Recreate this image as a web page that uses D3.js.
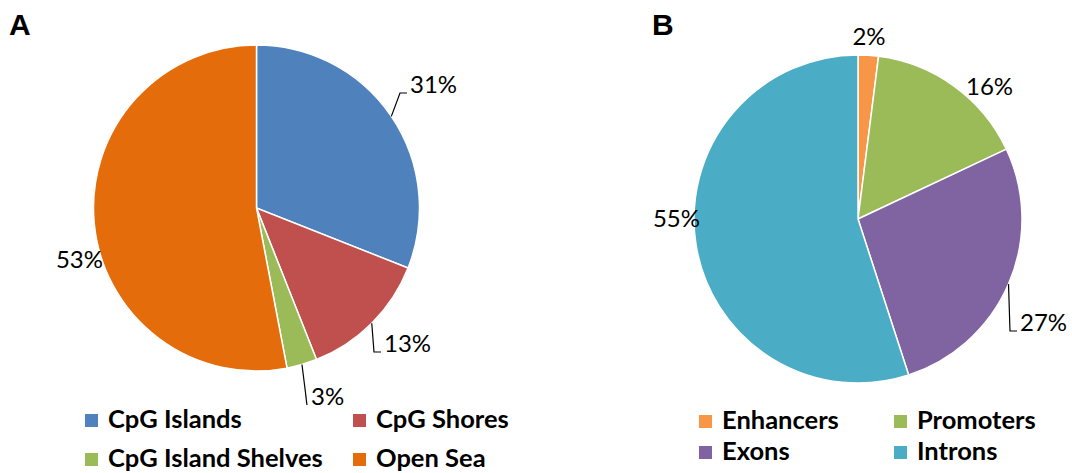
<!DOCTYPE html>
<html>
<head>
<meta charset="utf-8">
<script src="https://cdn.jsdelivr.net/npm/d3@7/dist/d3.min.js"></script>
<style>
  html, body { margin: 0; padding: 0; background: #fff; }
  svg { display: block; }
</style>
</head>
<body>
<svg id="chart" width="1072" height="473"></svg>
<script>
// Panel A: genomic context relative to CpG islands
const regionsA = ["CpG Islands", "CpG Shores", "CpG Island Shelves", "Open Sea"];
const valuesA = [31, 13, 3, 53];
const colorsA = ["#4F81BD", "#C0504D", "#9BBB59", "#E46C0A"];

// Panel B: gene-feature annotation
const regionsB = ["Enhancers", "Promoters", "Exons", "Introns"];
const valuesB = [2, 16, 27, 55];
const colorsB = ["#F79646", "#9BBB59", "#8064A2", "#4BACC6"];

// Label placement relative to each pie centre: [x, y, anchor, leader]
const labelLayoutA = [
  [153.5, -115, "start", "elbow"],
  [127.5, 144, "start", "elbow"],
  [54.5, 197, "start", "straight"],
  [-153.5, 60, "end", "none"]
];
const labelLayoutB = [
  [11, -174, "middle", "none"],
  [108, -124, "start", "none"],
  [162, 112, "start", "elbow"],
  [-158, 8, "end", "none"]
];

const svg = d3.select("#chart");

function drawPanel(cfg) {
  const g = svg.append("g").attr("transform", `translate(${cfg.cx},${cfg.cy})`);
  const pie = d3.pie().sort(null).value(d => d)(cfg.values);
  const arc = d3.arc().innerRadius(0).outerRadius(cfg.r);

  g.selectAll("path.slice")
    .data(pie)
    .join("path")
    .attr("class", "slice")
    .attr("d", arc)
    .attr("fill", (d, i) => cfg.colors[i])
    .attr("stroke", "#fff")
    .attr("stroke-width", 1.5);

  pie.forEach((d, i) => {
    const [lx, ly, anchor, leader] = cfg.layout[i];
    const mid = (d.startAngle + d.endAngle) / 2;
    const px = cfg.r * Math.sin(mid);
    const py = -cfg.r * Math.cos(mid);
    if (leader === "elbow") {
      g.append("path")
        .attr("d", `M${px},${py}L${lx - 10},${ly}L${lx - 3},${ly}`)
        .attr("fill", "none").attr("stroke", "#000").attr("stroke-width", 1.2);
    } else if (leader === "straight") {
      g.append("path")
        .attr("d", `M${px},${py}L${lx - 4},${ly}`)
        .attr("fill", "none").attr("stroke", "#000").attr("stroke-width", 1.2);
    }
    g.append("text")
      .attr("x", lx).attr("y", ly)
      .attr("text-anchor", anchor)
      .attr("font-family", "Lato, 'Open Sans', sans-serif")
      .attr("font-size", 24)
      .attr("fill", "#000")
      .text(cfg.values[i] + "%");
  });

  // panel letter
  svg.append("text")
    .attr("x", cfg.letterX).attr("y", 35)
    .attr("font-family", "'Liberation Sans', Arial, sans-serif")
    .attr("font-weight", "bold")
    .attr("font-size", 30)
    .text(cfg.letter);

  // legend, two columns by two rows
  const lg = svg.append("g");
  cfg.names.forEach((name, i) => {
    const col = i % 2, row = Math.floor(i / 2);
    const x = cfg.legCols[col];
    const y = cfg.legRows[row];
    lg.append("rect")
      .attr("x", x).attr("y", y - 14)
      .attr("width", 13).attr("height", 13)
      .attr("fill", cfg.colors[i]);
    lg.append("text")
      .attr("x", x + 23).attr("y", y)
      .attr("font-family", "Lato, 'Open Sans', sans-serif")
      .attr("font-weight", "bold")
      .attr("font-size", 25.5)
      .attr("fill", "#000")
      .text(name);
  });
}

drawPanel({
  cx: 256.5, cy: 208, r: 163,
  values: valuesA, colors: colorsA, names: regionsA, layout: labelLayoutA,
  letter: "A", letterX: 9,
  legCols: [85, 353], legRows: [428, 467]
});

drawPanel({
  cx: 858, cy: 219, r: 164,
  values: valuesB, colors: colorsB, names: regionsB, layout: labelLayoutB,
  letter: "B", letterX: 652,
  legCols: [699, 894], legRows: [429, 460]
});
</script>
</body>
</html>
